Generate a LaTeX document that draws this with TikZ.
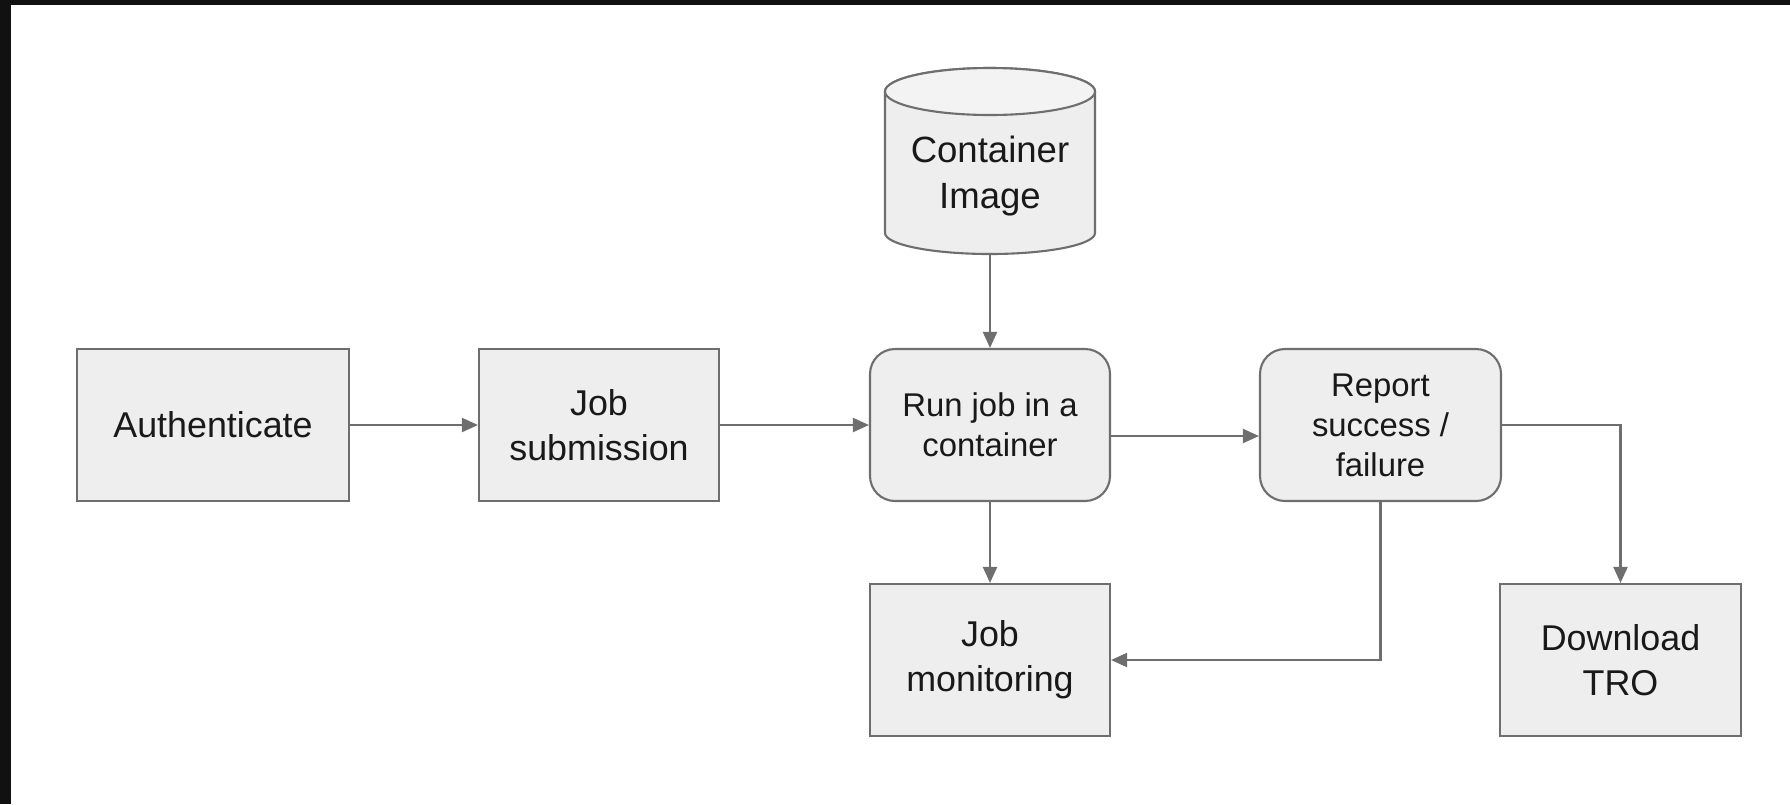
\documentclass[tikz,border=0pt]{standalone}
\usepackage{fontspec}
\setmainfont{Liberation Sans}
\usetikzlibrary{arrows.meta}
\definecolor{edgegray}{HTML}{6E6E6E}
\definecolor{boxfill}{HTML}{EEEEEE}
\definecolor{capfill}{HTML}{F3F3F3}
\definecolor{framebg}{HTML}{111111}
\tikzset{
	stagebox/.style={draw=edgegray,line width=0.6pt,fill=boxfill,minimum width=2.4cm,minimum height=1.52cm,align=center,font=\fontsize{10.2}{12.7}\selectfont,text=black!90},
	runbox/.style={stagebox,rounded corners=0.25cm,font=\fontsize{9.35}{11.4}\selectfont},
	flow/.style={draw=edgegray,line width=0.6pt,-{Triangle[length=0.16cm,width=0.14cm]}}
}
\begin{document}
\begin{tikzpicture}
				\useasboundingbox (0,0) rectangle (17.9,8.04);
				%\draw [help lines] (0,0) grid (18,8);
				\fill[framebg] (0,7.99) rectangle (17.9,8.04);
				\fill[framebg] (0,0) rectangle (0.11,8.04);
				% container image (cylinder)
				\filldraw[draw=edgegray,line width=0.6pt,fill=boxfill] (8.85,7.125) -- (8.85,5.71) arc (180:360:1.05 and 0.21) -- (10.95,7.125) arc (0:180:1.05 and 0.235);
				\filldraw[draw=edgegray,line width=0.6pt,fill=capfill] (9.90,7.125) ellipse (1.05 and 0.235);
				\node[align=center,font=\fontsize{10.4}{13.3}\selectfont,text=black!90,minimum height=1.56cm,inner sep=0pt] (image) at (9.90,6.28) {Container\\Image};
				% stages
				\node[stagebox,minimum width=2.72cm] (auth) at (2.13,3.79) {Authenticate};
				\node[stagebox] (submit) at (5.99,3.79) {Job\\submission};
				\node[runbox] (run) at (9.90,3.79) {Run job in a\\container};
				\node[runbox,minimum width=2.41cm] (report) at (13.805,3.79) {Report\\success /\\failure};
				\node[stagebox] (monitor) at (9.90,1.44) {Job\\monitoring};
				\node[stagebox,minimum width=2.41cm] (download) at (16.205,1.44) {Download\\TRO};
				% arrows
				\draw[flow] (auth) -- (submit);
				\draw[flow] (submit) -- (run);
				\draw[flow] (image.south) -- (run.north);
				\draw[flow] ([yshift=-1.1mm]run.east) -- ([yshift=-1.1mm]report.west);
				\draw[flow] (run) -- (monitor);
				\draw[flow] (report.east) -| (download.north);
				\draw[flow] (report.south) |- (monitor.east);
\end{tikzpicture}
\end{document}
